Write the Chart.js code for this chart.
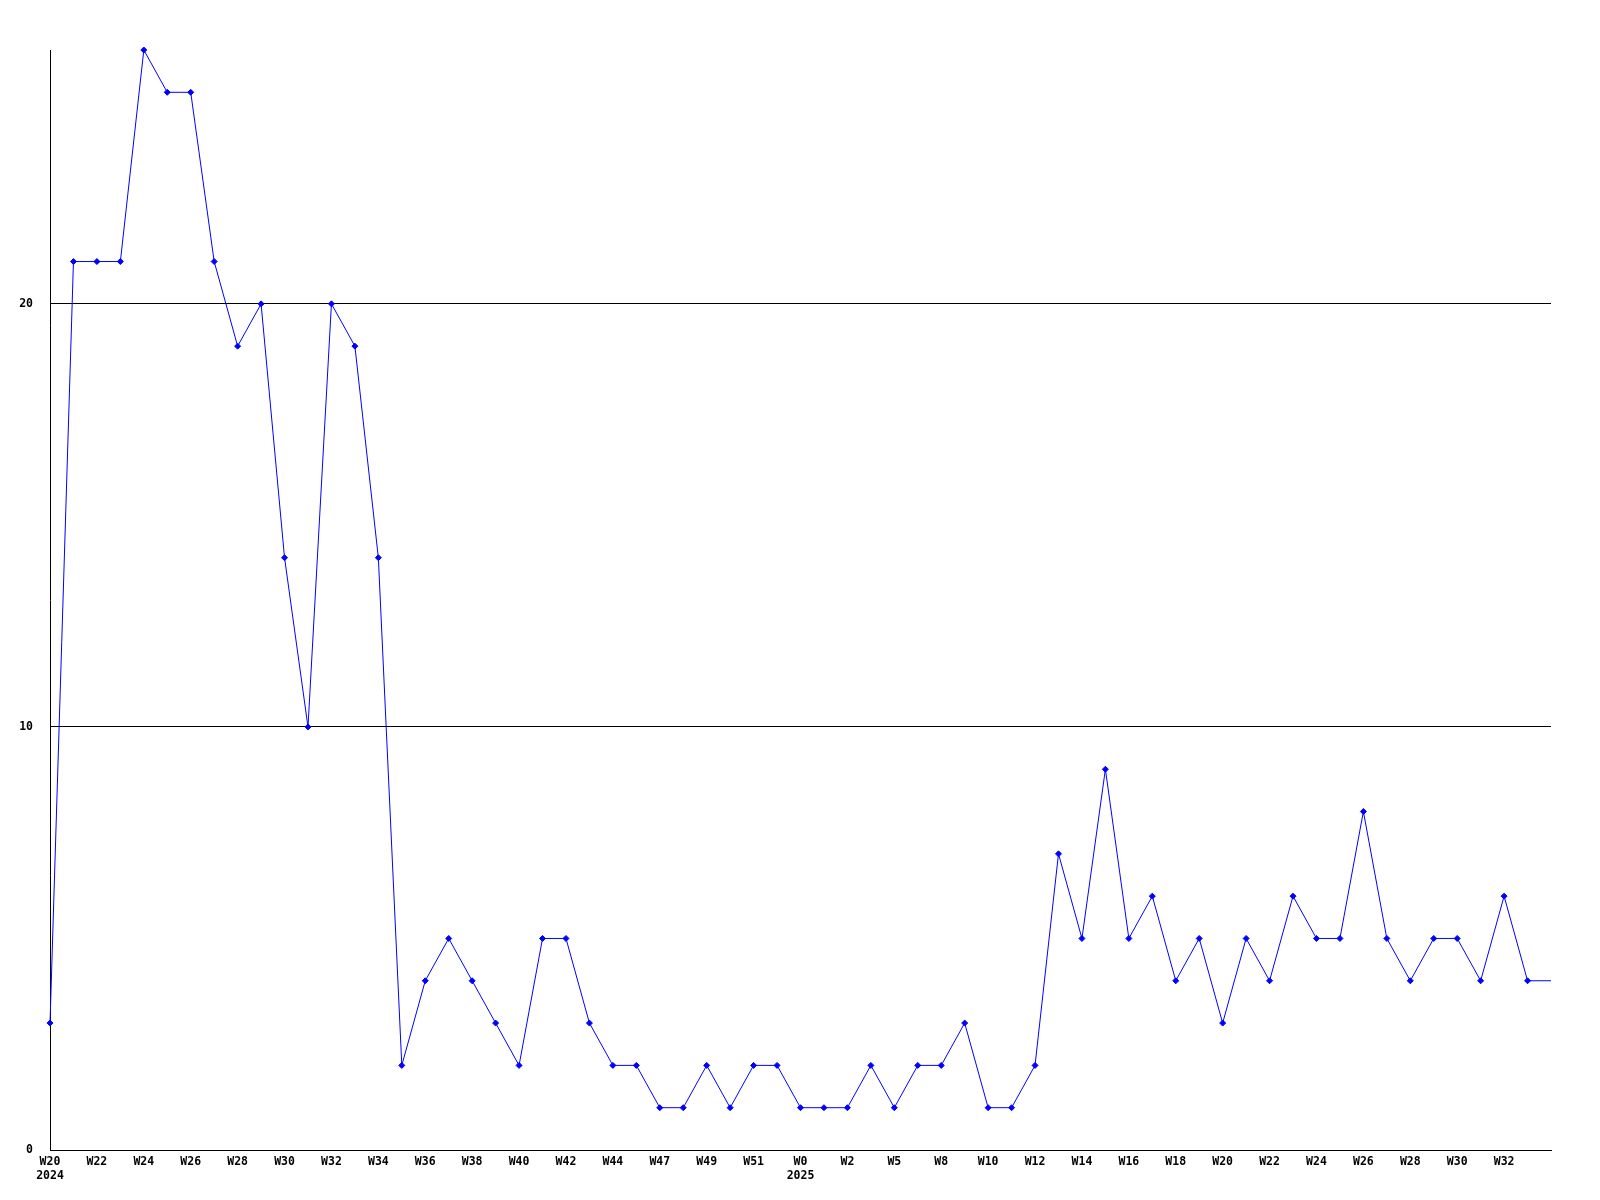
<!DOCTYPE html>
<html>
<head>
<meta charset="utf-8">
<title>Weekly count</title>
<script src="https://cdn.jsdelivr.net/npm/chart.js@4.4.1/dist/chart.umd.min.js"></script>
<style>
  html, body { margin: 0; padding: 0; background: #fff; }
  canvas { display: block; }
</style>
</head>
<body>
<canvas id="chart" width="1600" height="1200"></canvas>
<script>
// --- Data (one value per week, W20 2024 .. W33 2025) ---
const values = [
  3, 21, 21, 21, 26, 25, 25, 21, 19, 20, 14, 10, 20, 19, 14, 2,
  4, 5, 4, 3, 2, 5, 5, 3, 2, 2, 1, 1, 2, 1, 2, 2,
  1, 1, 1, 2, 1, 2, 2, 3, 1, 1, 2, 7, 5, 9, 5, 6,
  4, 5, 3, 5, 4, 6, 5, 5, 8, 5, 4, 5, 5, 4, 6, 4,
  4
];

// labels shown under every second point
const tickLabels = [
  'W20', 'W22', 'W24', 'W26', 'W28', 'W30', 'W32', 'W34',
  'W36', 'W38', 'W40', 'W42', 'W44', 'W47', 'W49', 'W51',
  'W0', 'W2', 'W5', 'W8', 'W10', 'W12', 'W14', 'W16',
  'W18', 'W20', 'W22', 'W24', 'W26', 'W28', 'W30', 'W32'
];
// year shown under the label at that point index
const yearLabels = { 0: '2024', 32: '2025' };

const yTicks = [0, 10, 20];
const yMax = 26;

const categories = values.map((_, i) => i);
const lastIndex = values.length - 1;

const tickFont = { family: 'DejaVu Sans Mono', size: 11.5, weight: 'bold', lineHeight: '14px' };

new Chart(document.getElementById('chart').getContext('2d'), {
  type: 'line',
  data: {
    labels: categories,
    datasets: [{
      data: values,
      borderColor: '#0000ff',
      backgroundColor: '#0000ff',
      borderWidth: 1,
      tension: 0,
      fill: false,
      clip: false,
      pointStyle: 'rectRot',
      // the last (running) week has no marker
      pointRadius: ctx => (ctx.dataIndex === lastIndex ? 0 : 3),
      pointBorderWidth: 1,
      pointBorderColor: '#0000ff'
    }]
  },
  options: {
    responsive: false,
    animation: false,
    layout: { padding: { top: 50, right: 49, left: 0, bottom: 0 } },
    plugins: {
      legend: { display: false },
      tooltip: { enabled: false }
    },
    scales: {
      x: {
        offset: false,
        grid: { display: true, color: 'rgba(0,0,0,0)', drawTicks: false },
        border: { display: true, color: '#000', width: 1 },
        ticks: {
          autoSkip: false,
          maxRotation: 0,
          minRotation: 0,
          padding: 5,
          color: '#000',
          font: tickFont,
          callback: (val, i) => {
            if (i % 2 !== 0) return '';
            const label = tickLabels[i / 2];
            if (!label) return '';
            return yearLabels[i] ? [label, yearLabels[i]] : label;
          }
        },
        afterFit: scale => { scale.height = 50; }
      },
      y: {
        min: 0,
        max: yMax,
        grid: { color: '#000', lineWidth: 1, drawTicks: false },
        border: { display: true, color: '#000', width: 1 },
        ticks: {
          padding: 17,
          color: '#000',
          font: tickFont
        },
        afterBuildTicks: scale => { scale.ticks = yTicks.map(v => ({ value: v })); },
        afterFit: scale => { scale.width = 50; }
      }
    }
  }
});
</script>
</body>
</html>
